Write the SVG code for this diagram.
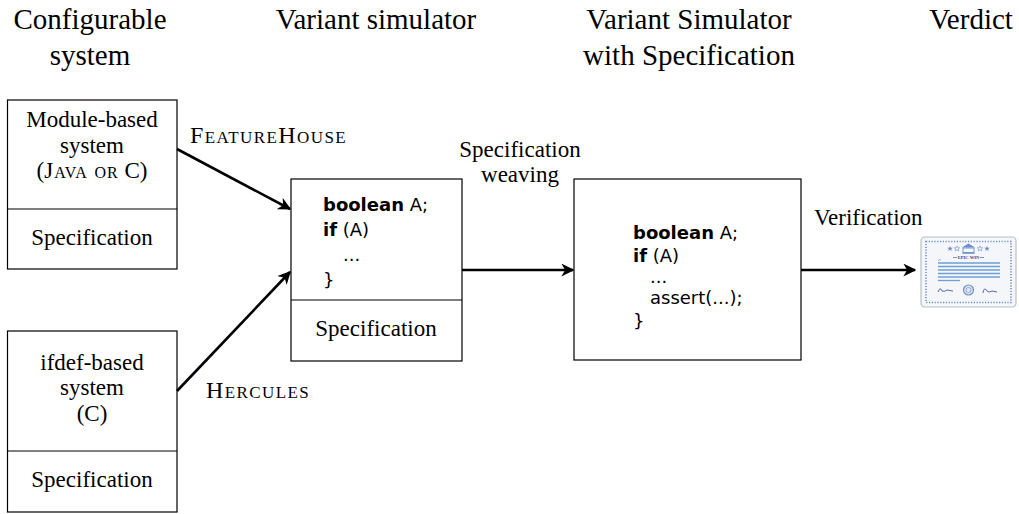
<svg xmlns="http://www.w3.org/2000/svg" width="1019" height="514" viewBox="0 0 1019 514">
  <style>
    .box { fill: #ffffff; stroke: #000000; stroke-width: 1.2; }
    .div { stroke: #000000; stroke-width: 1.2; }
    .hd { font-family: "Liberation Serif", "Times New Roman", serif; font-size: 29px; fill: #000; }
    .lb { font-family: "Liberation Serif", "Times New Roman", serif; font-size: 23px; fill: #000; }
    .sc { font-variant: small-caps; }
    .tool { font-size: 24px; letter-spacing: 1.4px; }
    .cd { font-family: "DejaVu Sans", "Liberation Sans", sans-serif; font-size: 18px; fill: #000; }
    .kw { font-weight: bold; }
    .edge { fill: none; stroke: #000000; stroke-width: 2.6; }
    .cert-line { stroke: #6d9fd6; stroke-width: 1.3; }
  </style>
  <defs>
    <marker id="arrow" viewBox="0 0 10 10" refX="9" refY="5" markerWidth="5" markerHeight="5" orient="auto" markerUnits="strokeWidth">
      <path d="M0,0 L10,5 L0,10 L3,5 Z" fill="#000"/>
    </marker>
    <path id="star" d="M0,-2.6 l0.8,1.8 1.9,0.1 -1.5,1.2 0.5,1.9 -1.7,-1.1 -1.7,1.1 0.5,-1.9 -1.5,-1.2 1.9,-0.1 Z"/>
  </defs>

  <rect width="1019" height="514" fill="#ffffff"/>

  <!-- column headings -->
  <g id="headings">
    <text class="hd" x="90" y="29" text-anchor="middle">Configurable</text>
    <text class="hd" x="90" y="65" text-anchor="middle">system</text>
    <text class="hd" x="376" y="29" text-anchor="middle">Variant simulator</text>
    <text class="hd" x="689" y="29" text-anchor="middle">Variant Simulator</text>
    <text class="hd" x="689" y="65" text-anchor="middle">with Specification</text>
    <text class="hd" x="971" y="29" text-anchor="middle">Verdict</text>
  </g>

  <!-- module-based configurable system -->
  <g id="module-system">
    <rect class="box" x="7.5" y="100" width="169.5" height="169"/>
    <line class="div" x1="7.5" y1="209" x2="177" y2="209"/>
    <text class="lb" x="92" y="127" text-anchor="middle">Module-based</text>
    <text class="lb" x="92" y="153" text-anchor="middle">system</text>
    <text class="lb" x="92" y="178" text-anchor="middle">(<tspan class="sc" letter-spacing="1">Java or</tspan> C)</text>
    <text class="lb" x="92" y="245" text-anchor="middle">Specification</text>
  </g>

  <!-- ifdef-based configurable system -->
  <g id="ifdef-system">
    <rect class="box" x="7.5" y="331" width="169.5" height="181"/>
    <line class="div" x1="7.5" y1="451" x2="177" y2="451"/>
    <text class="lb" x="92" y="370" text-anchor="middle">ifdef-based</text>
    <text class="lb" x="92" y="395" text-anchor="middle">system</text>
    <text class="lb" x="92" y="421" text-anchor="middle">(C)</text>
    <text class="lb" x="92" y="487" text-anchor="middle">Specification</text>
  </g>

  <!-- variant simulator -->
  <g id="variant-simulator">
    <rect class="box" x="291" y="179" width="171" height="182"/>
    <line class="div" x1="291" y1="300" x2="462" y2="300"/>
    <text class="cd" x="323" y="211"><tspan class="kw">boolean</tspan> A;</text>
    <text class="cd" x="323" y="236"><tspan class="kw">if</tspan> (A)</text>
    <text class="cd" x="343" y="261">...</text>
    <text class="cd" x="323" y="286">}</text>
    <text class="lb" x="376" y="336" text-anchor="middle">Specification</text>
  </g>

  <!-- variant simulator with woven specification -->
  <g id="simulator-with-spec">
    <rect class="box" x="574" y="179" width="227" height="181"/>
    <text class="cd" x="633" y="239"><tspan class="kw">boolean</tspan> A;</text>
    <text class="cd" x="633" y="262"><tspan class="kw">if</tspan> (A)</text>
    <text class="cd" x="650" y="283">...</text>
    <text class="cd" x="650" y="304">assert(...);</text>
    <text class="cd" x="633" y="327">}</text>
  </g>

  <!-- verdict certificate -->
  <g id="verdict">
    <rect x="921" y="237" width="95" height="70" rx="4" fill="#f4f6f9" stroke="#b9bec6" stroke-width="1.2"/>
    <rect x="926" y="241.5" width="85" height="61" fill="none" stroke="#6d8fc9" stroke-width="1.6" stroke-dasharray="1.2 1.6"/>
    <!-- stars and building -->
    <use href="#star" x="950" y="248.5" fill="#6d8fc9"/>
    <use href="#star" x="957" y="248.5" fill="none" stroke="#6d8fc9" stroke-width="0.6"/>
    <use href="#star" x="980" y="248.5" fill="none" stroke="#6d8fc9" stroke-width="0.6"/>
    <use href="#star" x="987" y="248.5" fill="#6d8fc9"/>
    <g fill="#6d8fc9">
      <path d="M962,247.5 L968.5,243.5 L975,247.5 Z"/>
      <rect x="963" y="248" width="11" height="4.5" fill="none" stroke="#6d8fc9" stroke-width="0.9"/>
      <rect x="962.5" y="252.5" width="12" height="1.3"/>
    </g>
    <text x="968.5" y="258.5" text-anchor="middle" font-family="Liberation Serif, serif" font-size="4.6" font-weight="bold" fill="#334a78">EPIC WIN</text>
    <line x1="953" y1="257.5" x2="957" y2="257.5" stroke="#334a78" stroke-width="0.6"/>
    <line x1="980" y1="257.5" x2="984" y2="257.5" stroke="#334a78" stroke-width="0.6"/>
    <!-- body lines -->
    <g class="cert-line">
      <line x1="938" y1="263" x2="1000" y2="263"/>
      <line x1="938" y1="266.5" x2="1000" y2="266.5"/>
      <line x1="938" y1="270" x2="1000" y2="270"/>
      <line x1="938" y1="273.5" x2="1000" y2="273.5"/>
      <line x1="938" y1="277" x2="1000" y2="277"/>
      <line x1="938" y1="280.5" x2="960" y2="280.5"/>
    </g>
    <path d="M938,261 q1,-2 3,-1" fill="none" stroke="#6d9fd6" stroke-width="0.8"/>
    <!-- seal and signatures -->
    <circle cx="968.5" cy="290" r="5" fill="#dfe6f4" stroke="#6d8fc9" stroke-width="1.2"/>
    <circle cx="968.5" cy="290" r="2.6" fill="none" stroke="#6d8fc9" stroke-width="0.7"/>
    <path d="M938,292 q2,-6 4,-1 q3,1 5,-1 l6,1" fill="none" stroke="#3e5ea8" stroke-width="0.9"/>
    <path d="M983,293 q1,-7 4,-2 q2,2 5,0 l5,1" fill="none" stroke="#3e5ea8" stroke-width="0.9"/>
  </g>

  <!-- connectors -->
  <g id="connectors">
    <line class="edge" x1="177" y1="149" x2="290" y2="209" marker-end="url(#arrow)"/>
    <line class="edge" x1="177" y1="391" x2="290" y2="272" marker-end="url(#arrow)"/>
    <line class="edge" x1="462" y1="270" x2="573" y2="270" marker-end="url(#arrow)"/>
    <line class="edge" x1="801" y1="270" x2="915" y2="270" marker-end="url(#arrow)"/>
    <text class="lb sc tool" x="190" y="143">FeatureHouse</text>
    <text class="lb sc tool" x="206" y="398">Hercules</text>
    <text class="lb" x="520" y="157" text-anchor="middle">Specification</text>
    <text class="lb" x="520" y="182" text-anchor="middle">weaving</text>
    <text class="lb" x="814" y="225">Verification</text>
  </g>
</svg>
